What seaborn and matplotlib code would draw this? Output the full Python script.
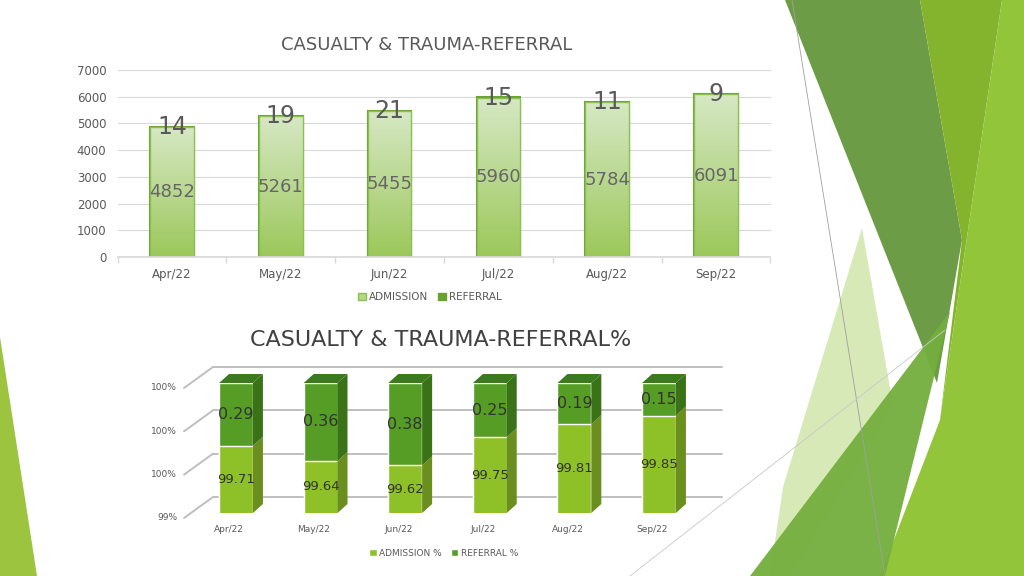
import matplotlib
matplotlib.use("Agg")
import matplotlib.pyplot as plt
import matplotlib.transforms as mtransforms
from matplotlib.patches import Polygon, Patch
from matplotlib.lines import Line2D
from matplotlib.colors import LinearSegmentedColormap
import numpy as np
import pandas as pd
import seaborn as sns

# data
months = ["Apr/22", "May/22", "Jun/22", "Jul/22", "Aug/22", "Sep/22"]
admission = [4852, 5261, 5455, 5960, 5784, 6091]
referral = [14, 19, 21, 15, 11, 9]
admission_pct = [99.71, 99.64, 99.62, 99.75, 99.81, 99.85]
referral_pct = [0.29, 0.36, 0.38, 0.25, 0.19, 0.15]
pct_ticks = [99.4, 99.6, 99.8, 100.0]

sns.set_theme(style="white")
plt.rcParams["font.family"] = ["DejaVu Sans"]

W, H = 1024, 576
fig = plt.figure(figsize=(W / 100, H / 100), dpi=100)
ident = mtransforms.IdentityTransform()


def px(x, y):
    # slide pixel (top-left origin) -> figure fraction
    return (x / W, 1 - y / H)


def deco(pts, color, alpha=1.0):
    fig.add_artist(Polygon([px(*p) for p in pts], closed=True, transform=fig.transFigure,
                           fc=color, ec="none", alpha=alpha, zorder=-3))


# background shapes of the slide theme
deco([(0, 337), (37, 576), (0, 576)], "#9dc43f")
deco([(785, 0), (920, 0), (962, 240), (937, 383)], "#6d9c47")
deco([(920, 0), (1002, 0), (940, 420), (962, 240)], "#84b42e")
deco([(1002, 0), (1024, 0), (1024, 576), (880, 576), (940, 420)], "#93c53a")
deco([(862, 228), (893, 405), (790, 576), (770, 576), (783, 487)], "#d3e7ae", 0.9)
deco([(750, 576), (885, 576), (950, 312)], "#74ae3e", 0.95)
fig.add_artist(Line2D([792 / W, 885 / W], [1, 1 - 576 / H], transform=fig.transFigure,
                      color="#a0a0a0", lw=0.6, zorder=-2))
fig.add_artist(Line2D([630 / W, 945 / W], [1 - 576 / H, 1 - 330 / H], transform=fig.transFigure,
                      color="#c8c8c8", lw=0.6, zorder=-2))

# ---------------- top chart ----------------
ax1 = fig.add_axes([117.5 / W, 1 - 257 / H, 653 / W, 187 / H])
ax1.set_facecolor("none")
df1 = pd.DataFrame({"month": months, "admission": admission, "referral": referral})
df1["total"] = df1["admission"] + df1["referral"]
sns.barplot(data=df1, x="month", y="total", color="#6aa231", width=0.4, saturation=1,
            errorbar=None, edgecolor="#6aa231", linewidth=1.5, ax=ax1)
sns.barplot(data=df1, x="month", y="admission", color="#b5d78a", width=0.4, saturation=1,
            errorbar=None, edgecolor="#8cc152", linewidth=1, ax=ax1)

cmap = LinearSegmentedColormap.from_list("grn", ["#9cc85a", "#d6e8c4"])
grad = np.linspace(0, 1, 256).reshape(-1, 1)
for p in ax1.patches[len(months):]:
    x0, y0, w, h = p.get_x(), p.get_y(), p.get_width(), p.get_height()
    im = ax1.imshow(grad, extent=[x0, x0 + w, y0, y0 + h], origin="lower", cmap=cmap,
                    aspect="auto", zorder=p.get_zorder() + 0.1)
    im.set_clip_path(p)
    p.set_facecolor("none")
    p.set_zorder(p.get_zorder() + 0.2)

for i, (a, r) in enumerate(zip(admission, referral)):
    ax1.text(i, a / 2, str(a), ha="center", va="center", fontsize=13, color="#666666", zorder=5)
    ax1.text(i, a + r / 2, str(r), ha="center", va="center", fontsize=17, color="#595959", zorder=5)

ax1.set_xlim(-0.5, len(months) - 0.5)
ax1.set_ylim(0, 7000)
ax1.set_yticks(range(0, 7001, 1000))
ax1.set_xticks(np.arange(-0.5, len(months), 1), minor=True)
ax1.grid(axis="y", color="#d9d9d9", lw=0.8)
ax1.set_axisbelow(True)
for s in ["left", "top", "right"]:
    ax1.spines[s].set_visible(False)
ax1.spines["bottom"].set_color("#d9d9d9")
ax1.tick_params(axis="both", which="major", length=0, labelsize=8.5, labelcolor="#595959", pad=8)
ax1.tick_params(axis="x", which="minor", length=4, color="#d9d9d9", direction="out", bottom=True)
ax1.set_xlabel("")
ax1.set_ylabel("")

fig.text(*px(427, 45), "CASUALTY & TRAUMA-REFERRAL", ha="center", va="center",
         fontsize=13, color="#595959")
fig.legend(handles=[Patch(fc="#b5d78a", ec="#8cc152"), Patch(fc="#6aa231", ec="#6aa231")],
           labels=["ADMISSION", "REFERRAL"], loc="center", bbox_to_anchor=px(430, 297),
           ncol=2, frameon=False, fontsize=7.5, handlelength=0.7, handleheight=0.7,
           handletextpad=0.3, columnspacing=1.0, labelcolor="#595959")

# ---------------- bottom chart (3-D look) ----------------
ax2 = fig.add_axes([193.7 / W, 1 - 513 / H, 507.6 / W, 130 / H])
df2 = pd.DataFrame({"month": months, "adm": admission_pct, "ref": referral_pct})
df2["total"] = df2["adm"] + df2["ref"]
sns.barplot(data=df2, x="month", y="total", color="#559d25", width=0.4, saturation=1,
            errorbar=None, ax=ax2)
sns.barplot(data=df2, x="month", y="adm", color="#8ec127", width=0.4, saturation=1,
            errorbar=None, ax=ax2)
ax2.set_xlim(-0.5, len(months) - 0.5)
ax2.set_ylim(pct_ticks[0], pct_ticks[-1])
ax2.set_axis_off()

fig.canvas.draw()
td = ax2.transData
base = pct_ticks[0]

# back wall grid lines + floor diagonals
for t in pct_ticks:
    _, ty = td.transform((0, t))
    fig.add_artist(Line2D([213, 722], [ty + 16, ty + 16], transform=ident,
                          color="#bfbfbf", lw=1.4, zorder=-1))
    fig.add_artist(Line2D([184, 213], [ty - 5, ty + 16], transform=ident,
                          color="#bfbfbf", lw=1.4, zorder=-1))
    fig.text(177 / W, (ty - 5) / H, f"{t:.0f}%", ha="right", va="center",
             fontsize=6.5, color="#595959")

dx, dy = 10, 9
for i, (a, r) in enumerate(zip(admission_pct, referral_pct)):
    x0, y_b = td.transform((i - 0.2, base))
    x1, y_a = td.transform((i + 0.2, a))
    _, y_t = td.transform((i, min(a + r, pct_ticks[-1])))
    for ya, yb, col in [(y_b, y_a, "#6b8f1f"), (y_a, y_t, "#3a7218")]:
        ax2.add_patch(Polygon([(x1, ya), (x1 + dx, ya + dy), (x1 + dx, yb + dy), (x1, yb)],
                              transform=ident, fc=col, ec="none", clip_on=False))
    ax2.add_patch(Polygon([(x0, y_t), (x1, y_t), (x1 + dx, y_t + dy), (x0 + dx, y_t + dy)],
                          transform=ident, fc="#3b7a1d", ec="none", clip_on=False))
    ax2.text(i, (base + a) / 2, f"{a:.2f}", ha="center", va="center", fontsize=9.5,
             color="#333333", zorder=5)
    ax2.text(i, a + r / 2, f"{r:.2f}", ha="center", va="center", fontsize=11.5,
             color="#333333", zorder=5)
    fig.text((x0 + x1) / 2 / W - 7 / W, (y_b - 17) / H, months[i], ha="center", va="center",
             fontsize=6.5, color="#595959")

fig.text(*px(441, 340), "CASUALTY & TRAUMA-REFERRAL%", ha="center", va="center",
         fontsize=16, color="#404040")
fig.legend(handles=[Patch(fc="#8ec127"), Patch(fc="#559d25")],
           labels=["ADMISSION %", "REFERRAL %"], loc="center", bbox_to_anchor=px(444, 553),
           ncol=2, frameon=False, fontsize=6.5, handlelength=0.8, handleheight=0.8,
           handletextpad=0.3, columnspacing=1.0, labelcolor="#595959")

fig.savefig("out.png", dpi=100)
